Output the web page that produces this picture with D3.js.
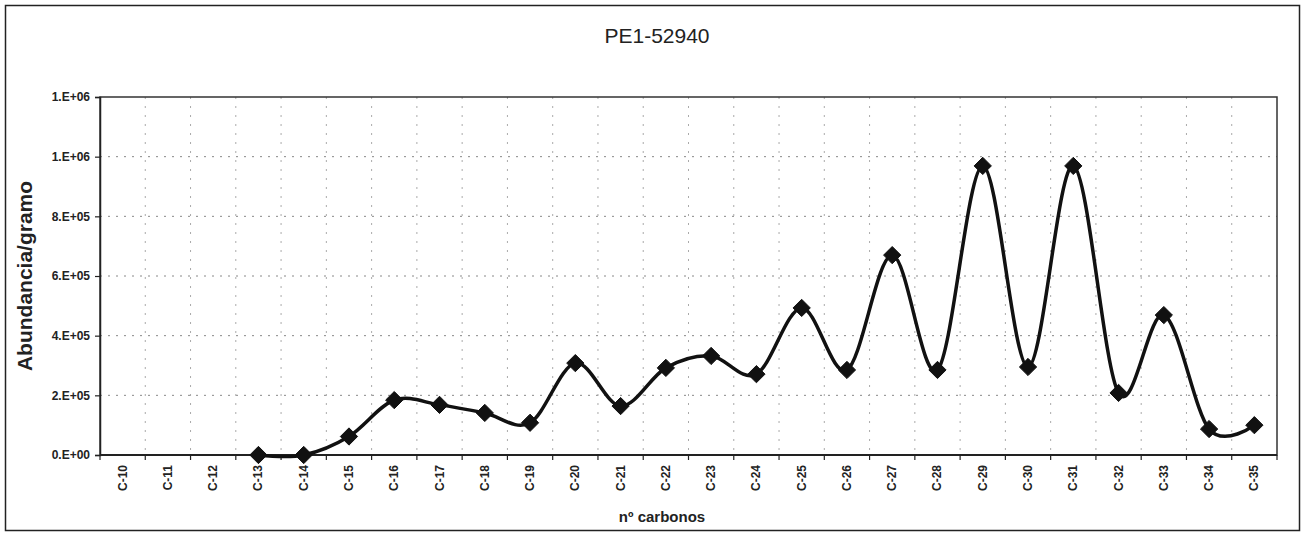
<!DOCTYPE html>
<html><head><meta charset="utf-8">
<script src="https://cdn.jsdelivr.net/npm/d3@7"></script>
<style>body{margin:0;background:#fff;} text{font-family:"Liberation Sans",Arial,sans-serif;}</style>
</head><body>
<svg id="c" width="1303" height="534"></svg>
<script>
const categories = ["C-10","C-11","C-12","C-13","C-14","C-15","C-16","C-17","C-18","C-19","C-20","C-21","C-22","C-23","C-24","C-25","C-26","C-27","C-28","C-29","C-30","C-31","C-32","C-33","C-34","C-35"];
const values = [null,null,null,0,0,62000,184000,168000,141000,108000,308000,164000,292000,332000,271000,493000,285000,670000,285000,969000,295000,969000,208000,469000,87000,100000];
const yTicks = [0,200000,400000,600000,800000,1000000,1200000];
const yTickLabels = ["0.E+00","2.E+05","4.E+05","6.E+05","8.E+05","1.E+06","1.E+06"];

const svg = d3.select("#c");
svg.append("rect").attr("x",5.5).attr("y",5.5).attr("width",1294).attr("height",525)
  .attr("fill","#fff").attr("stroke","#222").attr("stroke-width",1.5);

const L=100,T=97,R=1277,B=455;
const x = d3.scaleBand().domain(categories).range([L,R]).padding(0);
const y = d3.scaleLinear().domain([0,1200000]).range([B,T]);

// gridlines
const g = svg.append("g");
g.selectAll("line.h").data(yTicks.slice(1,-1)).join("line")
  .attr("x1",L).attr("x2",R).attr("y1",d=>y(d)).attr("y2",d=>y(d))
  .attr("stroke","#888").attr("stroke-width",1).attr("stroke-dasharray","2,6");
g.selectAll("line.v").data(categories.slice(1)).join("line")
  .attr("x1",d=>x(d)).attr("x2",d=>x(d)).attr("y1",T).attr("y2",B)
  .attr("stroke","#aaa").attr("stroke-width",1).attr("stroke-dasharray","2,7");

// plot frame
svg.append("rect").attr("x",L).attr("y",T).attr("width",R-L).attr("height",B-T)
  .attr("fill","none").attr("stroke","#333").attr("stroke-width",1.5);

// y axis
const yAxis = d3.axisLeft(y).tickValues(yTicks).tickSize(5).tickFormat((d,i)=>yTickLabels[i]);
const ya = svg.append("g").attr("transform",`translate(${L},0)`).call(yAxis);
ya.select(".domain").attr("stroke","#222").attr("stroke-width",1.5);
ya.selectAll(".tick line").attr("stroke","#222").attr("stroke-width",1.2);
ya.selectAll("text").attr("font-size",12).attr("font-weight","bold").attr("fill","#222").attr("dx",-2);

// x axis with ticks at category boundaries
const xa = svg.append("g").attr("transform",`translate(0,${B})`);
xa.append("line").attr("x1",L).attr("x2",R).attr("stroke","#222").attr("stroke-width",1.8);
const bounds = categories.map(c=>x(c)).concat([x(categories[categories.length-1])+x.bandwidth()]);
xa.selectAll("line.t").data(bounds).join("line").attr("class","t")
  .attr("x1",d=>d).attr("x2",d=>d).attr("y1",0).attr("y2",5).attr("stroke","#222").attr("stroke-width",1.2);
xa.selectAll("text").data(categories).join("text")
  .attr("transform",d=>`translate(${x(d)+x.bandwidth()/2+4},10) rotate(-90)`)
  .attr("text-anchor","end").attr("font-size",12).attr("font-weight","bold").attr("fill","#222")
  .text(d=>d);

// line
const pts = categories.map((c,i)=>({c,v:values[i]})).filter(d=>d.v!==null);
const line = d3.line().x(d=>x(d.c)+x.bandwidth()/2).y(d=>y(d.v)).curve(d3.curveCardinal.tension(0));
svg.append("path").datum(pts).attr("d",line).attr("fill","none").attr("stroke","#111").attr("stroke-width",3.5);
const sym = d3.symbol().type(d3.symbolDiamond2).size(190);
svg.selectAll("path.m").data(pts).join("path").attr("class","m")
  .attr("transform",d=>`translate(${x(d.c)+x.bandwidth()/2},${y(d.v)})`)
  .attr("d",sym).attr("fill","#111").attr("stroke","#111").attr("stroke-width",1);

// titles
svg.append("text").attr("x",657).attr("y",43).attr("text-anchor","middle").attr("font-size",21).attr("fill","#222").text("PE1-52940");
svg.append("text").attr("transform","translate(32,276) rotate(-90)").attr("text-anchor","middle")
  .attr("font-size",21).attr("font-weight","bold").attr("fill","#222").text("Abundancia/gramo");
svg.append("text").attr("x",662).attr("y",522).attr("text-anchor","middle").attr("font-size",15).attr("font-weight","bold").attr("fill","#222").text("nº carbonos");
</script>
</body></html>
